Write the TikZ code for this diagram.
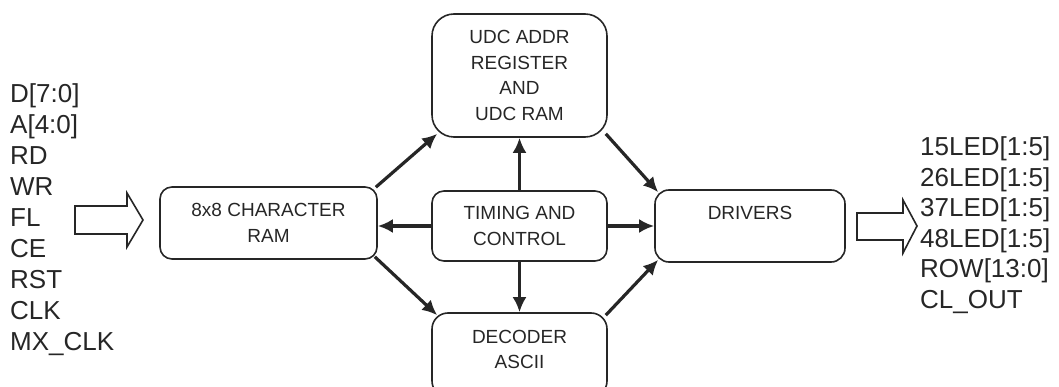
\documentclass[tikz,border=0pt]{standalone}
\usepackage{fontspec}
\setmainfont{Liberation Sans}
\usetikzlibrary{arrows.meta,calc}
\definecolor{ink}{HTML}{262626}
\tikzset{
  blk/.style={draw=ink,line width=1.6pt,rounded corners=12pt,inner sep=0pt},
  btxt/.style={font=\fontsize{19}{25.5}\selectfont,text=ink,align=center,inner sep=0pt},
  sig/.style={font=\fontsize{26}{31}\selectfont,text=ink,align=left,anchor=west,inner sep=0pt},
  conn/.style={draw=ink,line width=3.2pt,-{Latex[length=15pt,width=14pt]}},
  fat/.style={draw=ink,line width=1.6pt,line join=miter}
}
\begin{document}
\begin{tikzpicture}[x=1pt,y=-1pt]
\useasboundingbox (0,0) rectangle (1059,387);
\clip (0,0) rectangle (1059,387);
% boxes
\node[blk,minimum width=217pt,minimum height=72pt,btxt] (ram) at (268.5,223) {8x8 CHARACTER\\RAM};
\node[blk,rounded corners=22pt,minimum width=175pt,minimum height=123pt,btxt] (udc) at (519.5,75.5) {UDC ADDR\\REGISTER\\AND\\UDC RAM};
\node[blk,minimum width=175pt,minimum height=70pt,btxt] (tim) at (519.5,226) {TIMING AND\\CONTROL};
\node[blk,rounded corners=16pt,minimum width=175pt,minimum height=84pt] (dec) at (519.5,355) {};
\node[btxt] (dect) at (519.5,349.5) {DECODER\\ASCII};
\node[blk,rounded corners=14pt,minimum width=190pt,minimum height=72pt] (drv) at (750,226) {};
\node[btxt] (drvt) at (750,213) {DRIVERS};
% signal lists
\node[sig] (in) at (10,220) {D[7:0]\\A[4:0]\\RD\\WR\\FL\\CE\\RST\\CLK\\MX\_CLK};
\node[sig,font=\fontsize{26}{30.5}\selectfont] (out) at (920,225) {15LED[1:5]\\26LED[1:5]\\37LED[1:5]\\48LED[1:5]\\ROW[13:0]\\CL\_OUT};
% block arrows
\coordinate (lin) at (75,220);
\draw[fat] (lin) ++(0,-14) -- ++(52,0) -- ++(0,-13) -- (143,220) -- (127,247) -- ++(0,-13) -- (75,234) -- cycle;
\coordinate (rin) at (857,226);
\draw[fat] (rin) ++(0,-13) -- ++(46,0) -- ++(0,-13) -- (917,226) -- (903,253) -- ++(0,-13) -- (857,240) -- cycle;
% connectors
\draw[conn] ($(ram.north east)+(-2,1)$) -- ($(udc.south west)+(6,-4)$);
\draw[conn] ($(ram.south east)+(-3,-3)$) -- ($(dec.north west)+(6,3)$);
\draw[conn] (tim.west) -- (tim.west -| ram.east);
\draw[conn] (tim.east) -- (drv.west);
\draw[conn] (tim.north) -- (udc.south);
\draw[conn] (tim.south) -- (dec.north);
\draw[conn] ($(udc.south east)+(-2,-4)$) -- ($(drv.north west)+(4,3)$);
\draw[conn] ($(dec.north east)+(-2,3)$) -- ($(drv.south west)+(4,-3)$);
\end{tikzpicture}
\end{document}
